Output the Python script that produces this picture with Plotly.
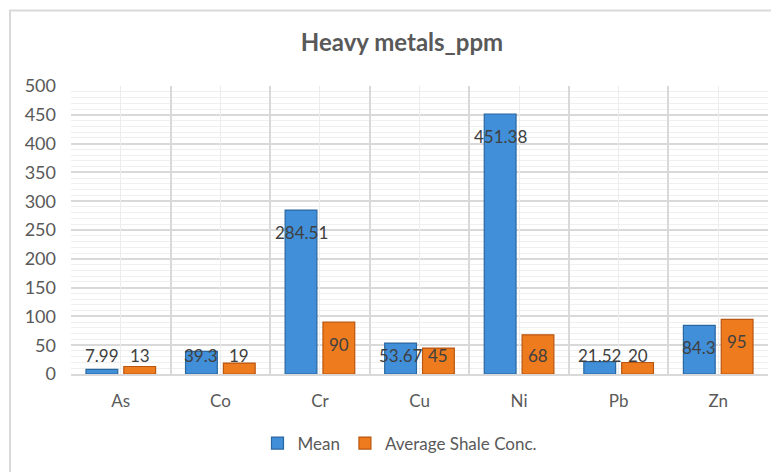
import plotly.graph_objects as go

categories = ["As", "Co", "Cr", "Cu", "Ni", "Pb", "Zn"]
mean_values = [7.99, 39.3, 284.51, 53.67, 451.38, 21.52, 84.3]
shale_values = [13, 19, 90, 45, 68, 20, 95]
y_ticks = [0, 50, 100, 150, 200, 250, 300, 350, 400, 450, 500]

# page body has an 8px margin; figure is sized/placed to compensate
PAD = 8
W, H = 779 - PAD, 472 - PAD
ML, MR, MT, MB = 71 - PAD, 11, 86 - PAD, 92
plot_h = H - MT - MB
plot_w = W - ML - MR
y_max = 500
units_per_px = y_max / plot_h

FONT = "Lato"
TXT = "#595959"
LBL = "#404040"

fig = go.Figure()
fig.add_trace(go.Bar(
    name="Mean", x=categories, y=mean_values,
    marker=dict(color="#418fd8", line=dict(color="#2a679f", width=1.2)),
    hoverinfo="x+y",
))
fig.add_trace(go.Bar(
    name="Average Shale Conc.", x=categories, y=shale_values,
    marker=dict(color="#ef7b1f", line=dict(color="#b9560f", width=1.2)),
    hoverinfo="x+y",
))

# data labels: inside end, clamped for short bars
off = 0.19
for i, (m, s) in enumerate(zip(mean_values, shale_values)):
    for v, dx in ((m, -off), (s, off)):
        yc = max(v - 23 * units_per_px, 19 * units_per_px)
        fig.add_annotation(x=i + dx, y=yc, xref="x", yref="y", text=f"{v:g}",
                           showarrow=False, yanchor="middle", xanchor="center",
                           font=dict(family=FONT, size=17, color=LBL))

# minor vertical gridlines at category centres
fig.update_layout(xaxis2=dict(overlaying="x", type="linear", range=[-0.5, len(categories) - 0.5],
                              tickvals=list(range(len(categories))), showticklabels=False,
                              showgrid=True, gridcolor="#ececec", gridwidth=1, zeroline=False,
                              side="bottom", showline=False, ticks=""))
fig.add_trace(go.Scatter(x=[0], y=[0], xaxis="x2", yaxis="y", mode="markers",
                         marker=dict(opacity=0), showlegend=False, hoverinfo="skip"))

# chart border
fig.add_shape(type="rect", xref="paper", yref="paper",
              x0=(10 - PAD - ML) / plot_w, x1=1.1,
              y0=-0.5, y1=(H - MB - 1) / plot_h,
              line=dict(color="#d9d9d9", width=2), fillcolor="rgba(0,0,0,0)", layer="below")

fig.update_layout(
    width=W, height=H,
    margin=dict(l=ML, r=MR, t=MT, b=MB),
    paper_bgcolor="white", plot_bgcolor="white",
    title=dict(text="<b>Heavy metals_ppm</b>", x=(402 - PAD) / W, xref="container", xanchor="center",
               y=1 - (43 - PAD) / H, yanchor="middle",
               font=dict(family=FONT, size=24, color=TXT)),
    barmode="group", bargap=0.24, bargroupgap=0.16,
    font=dict(family=FONT, size=17, color=TXT),
    xaxis=dict(type="category", tickson="boundaries", showgrid=True, gridcolor="#d9d9d9",
               gridwidth=1.5, ticks="", showline=True, linecolor="#d9d9d9", linewidth=1.5,
               tickfont=dict(family=FONT, size=17, color=TXT), ticklabelstandoff=11,
               range=[-0.5, len(categories) - 0.5]),
    yaxis=dict(range=[0, y_max], tickvals=y_ticks, showgrid=True, gridcolor="#d9d9d9",
               gridwidth=1.5, zeroline=False, ticks="", ticklabelstandoff=14,
               tickfont=dict(family=FONT, size=18, color=TXT),
               minor=dict(dtick=10, showgrid=True, gridcolor="#efefef", gridwidth=1)),
    legend=dict(orientation="h", x=(400 - PAD - ML) / plot_w, xanchor="center",
                y=-(451 - PAD - (H - MB)) / plot_h, yanchor="middle",
                font=dict(family=FONT, size=17, color=TXT), itemwidth=30,
                traceorder="normal"),
    showlegend=True,
)

fig.write_html("out.html")
